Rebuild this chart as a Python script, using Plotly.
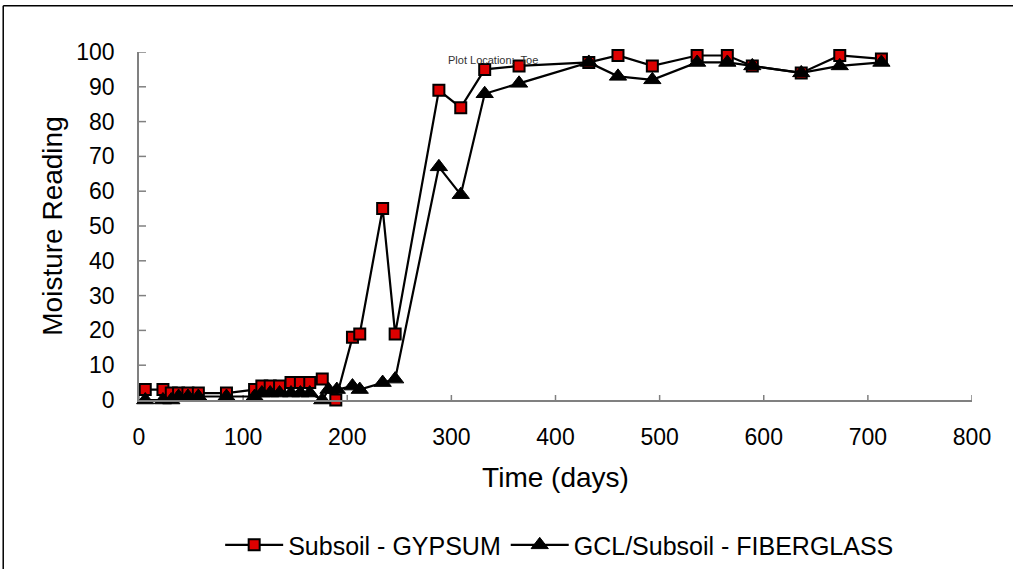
import plotly.graph_objects as go

# Moisture sensor readings at the toe location
gypsum_days = [6, 23, 31, 38, 47, 57, 84, 111, 118, 126, 135, 146, 155, 164, 176, 189,
               205, 212, 234, 246, 288, 309, 332, 365, 432, 460, 493, 536, 565, 589, 636, 673, 713]
gypsum_vals = [3, 3, 2, 2, 2, 2, 2, 3, 4, 4, 4, 5, 5, 5, 6, 0,
               18, 19, 55, 19, 89, 84, 95, 96, 97, 99, 96, 99, 99, 96, 94, 99, 98]

fiber_days = [6, 23, 31, 38, 47, 57, 84, 111, 118, 126, 135, 146, 155, 164, 176, 182, 190,
              205, 212, 234, 246, 288, 309, 332, 365, 432, 460, 493, 536, 565, 589, 636, 673, 713]
fiber_vals = [0, 0, 0, 1, 1, 1, 1, 1, 2, 2, 2, 2, 2, 2, 0, 3, 3,
              4, 3, 5, 6, 67, 59, 88, 91, 97, 93, 92, 97, 97, 96, 94, 96, 97]

x_ticks = [0, 100, 200, 300, 400, 500, 600, 700, 800]
y_ticks = [0, 10, 20, 30, 40, 50, 60, 70, 80, 90, 100]

FONT = "Liberation Sans, Arial, sans-serif"
AXIS_GRAY = "#808080"
FS = 23

fig = go.Figure()
fig.add_trace(go.Scatter(
    x=gypsum_days, y=gypsum_vals, name="Subsoil - GYPSUM", mode="lines+markers",
    line=dict(color="black", width=2.2),
    marker=dict(symbol="square", size=11, color="#dd0000", line=dict(color="black", width=2)),
    cliponaxis=False,
))
fig.add_trace(go.Scatter(
    x=fiber_days, y=fiber_vals, name="GCL/Subsoil - FIBERGLASS", mode="lines+markers",
    line=dict(color="black", width=2.2),
    marker=dict(symbol="triangle-up", size=15, color="black", line=dict(color="black", width=1)),
    cliponaxis=False,
))

# Tick marks that cross the axis lines
shapes = []
for v in y_ticks:
    shapes.append(dict(type="line", xref="x", yref="y", xsizemode="pixel", xanchor=0,
                       x0=-7, x1=7, y0=v, y1=v, line=dict(color=AXIS_GRAY, width=1.5), layer="below"))
for v in x_ticks:
    shapes.append(dict(type="line", xref="x", yref="y", ysizemode="pixel", yanchor=0,
                       y0=-8, y1=5, x0=v, x1=v, line=dict(color=AXIS_GRAY, width=1.5), layer="below"))
# Chart frame
shapes.append(dict(type="line", xref="paper", yref="paper", x0=-0.163, x1=-0.163, y0=-0.5, y1=1.133,
                   line=dict(color="black", width=1.5)))
shapes.append(dict(type="line", xref="paper", yref="paper", x0=-0.163, x1=1.2, y0=1.133, y1=1.133,
                   line=dict(color="black", width=1.5)))

fig.update_layout(
    width=1013, height=569,
    margin=dict(l=139, r=41, t=52, b=169),
    paper_bgcolor="white", plot_bgcolor="white",
    font=dict(family=FONT, size=FS, color="black"),
    showlegend=True,
    legend=dict(orientation="h", xref="paper", yref="container", x=0.505, xanchor="center",
                y=0.042, yanchor="middle", font=dict(size=25), itemwidth=58,
                traceorder="normal"),
    shapes=shapes,
    annotations=[dict(x=295, y=97.6, xref="x", yref="y", text="Plot Location:  Toe",
                      showarrow=False, xanchor="left", yanchor="middle",
                      font=dict(size=11, color="#333333"))],
)
fig.update_xaxes(range=[0, 800], tickvals=x_ticks, ticks="", showgrid=False, zeroline=False,
                 showline=True, linecolor=AXIS_GRAY, linewidth=1.5, ticklabelstandoff=16,
                 automargin=False,
                 title=dict(text="Time (days)", standoff=18), tickfont=dict(size=FS))
fig.update_yaxes(range=[0, 100], tickvals=y_ticks, ticks="", showgrid=False, zeroline=False,
                 showline=True, linecolor=AXIS_GRAY, linewidth=1.5, ticklabelstandoff=18,
                 automargin=False,
                 title=dict(text="Moisture Reading", standoff=5), tickfont=dict(size=FS))

fig.write_html("out.html")
